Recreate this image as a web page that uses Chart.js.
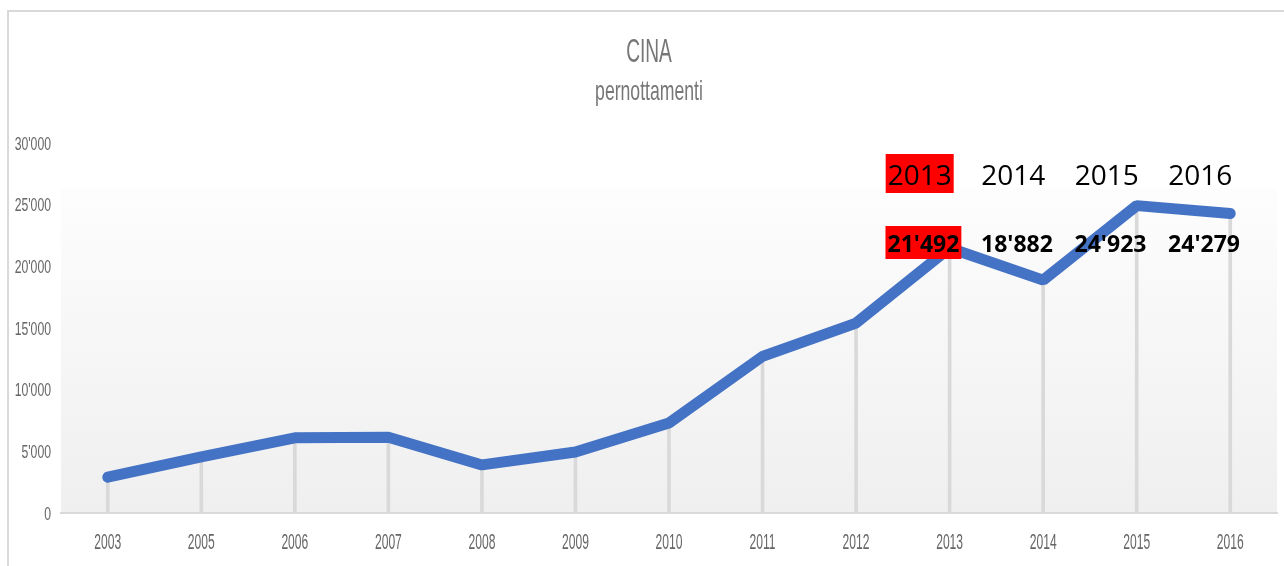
<!DOCTYPE html>
<html>
<head>
<meta charset="utf-8">
<script src="https://cdn.jsdelivr.net/npm/chart.js@4/dist/chart.umd.min.js"></script>
<style>
  html, body { margin: 0; padding: 0; background: #ffffff; }
  #wrap { width: 1284px; height: 566px; position: relative; }
</style>
</head>
<body>
<div id="wrap"><canvas id="c" width="1284" height="566"></canvas></div>
<script>
// ---- data ----
const titleText = "CINA";
const subtitleText = "pernottamenti";
const years = ["2003", "2005", "2006", "2007", "2008", "2009", "2010", "2011", "2012", "2013", "2014", "2015", "2016"];
const nights = [2900, 4550, 6100, 6150, 3900, 4950, 7300, 12700, 15400, 21492, 18882, 24923, 24279];
const yTicks = [0, 5000, 10000, 15000, 20000, 25000, 30000];
const noteYears = ["2013", "2014", "2015", "2016"];
const noteValues = ["21'492", "18'882", "24'923", "24'279"];
const noteHighlight = [true, false, false, false];

function fmt(v) {
  return String(v).replace(/\B(?=(\d{3})+(?!\d))/g, "'");
}

function condText(ctx, text, x, y, align, font, sx, color) {
  ctx.save();
  ctx.font = font;
  ctx.fillStyle = color;
  ctx.textBaseline = 'alphabetic';
  const w = ctx.measureText(text).width * sx;
  let left = x;
  if (align === 'center') left = x - w / 2;
  else if (align === 'right') left = x - w;
  ctx.translate(left, y);
  ctx.scale(sx, 1);
  ctx.textAlign = 'left';
  ctx.fillText(text, 0, 0);
  ctx.restore();
}

const decor = {
  id: 'decor',
  beforeDraw(chart) {
    const ctx = chart.ctx, a = chart.chartArea;
    ctx.save();
    // outer frame
    ctx.strokeStyle = '#d9d9d9';
    ctx.lineWidth = 2;
    ctx.beginPath();
    ctx.moveTo(8, 566); ctx.lineTo(8, 11); ctx.lineTo(1284, 11);
    ctx.stroke();
    // plot background gradient
    const top = a.top + 45;
    const g = ctx.createLinearGradient(0, top, 0, a.bottom);
    g.addColorStop(0, '#fdfdfd');
    g.addColorStop(1, '#efefef');
    ctx.fillStyle = g;
    ctx.fillRect(a.left, top, a.right - a.left, a.bottom - top);
    ctx.restore();
  },
  afterDraw(chart) {
    const ctx = chart.ctx, a = chart.chartArea;
    const xs = chart.scales.x, ys = chart.scales.y;
    const tickColor = '#666666';
    // titles
    const cx = (a.left + a.right) / 2 + 0;
    condText(ctx, titleText, 649, 62, 'center', '33px "Liberation Sans"', 0.58, '#777777');
    condText(ctx, subtitleText, 649, 100, 'center', '28px "Liberation Sans"', 0.63, '#777777');
    // y tick labels
    ys.ticks.forEach((t, i) => {
      const y = ys.getPixelForTick(i);
      condText(ctx, fmt(t.value), a.left - 10, y + 6.5, 'right', '18px "Liberation Sans"', 0.68, tickColor);
    });
    // x tick labels
    xs.ticks.forEach((t, i) => {
      const x = xs.getPixelForTick(i);
      condText(ctx, years[t.value], x, a.bottom + 36, 'center', '22px "Liberation Sans"', 0.55, tickColor);
    });
    // annotations
    const step = xs.getPixelForValue(1) - xs.getPixelForValue(0);
    const base = years.length - noteYears.length;
    ctx.save();
    noteYears.forEach((yr, k) => {
      const px = xs.getPixelForValue(base + k);
      const x1 = px - step * 0.32;
      const x2 = px - step * 0.28;
      ctx.font = '28px "Open Sans"';
      const w1 = ctx.measureText(yr).width;
      ctx.font = 'bold 23px "Open Sans"';
      const w2 = ctx.measureText(noteValues[k]).width;
      const b1 = a.top + 42, b2 = a.top + 109;
      if (noteHighlight[k]) {
        ctx.fillStyle = '#ff0000';
        ctx.fillRect(x1 - w1 / 2 - 2, b1 - 31, w1 + 4, 39);
        ctx.fillRect(x2 - w2 / 2 - 2, b2 - 26, w2 + 4, 33);
      }
      ctx.fillStyle = '#000000';
      ctx.textAlign = 'center';
      ctx.textBaseline = 'alphabetic';
      ctx.font = '28px "Open Sans"';
      ctx.fillText(yr, x1, b1);
      ctx.font = 'bold 23px "Open Sans"';
      ctx.fillText(noteValues[k], x2, b2);
    });
    ctx.restore();
  }
};

new Chart(document.getElementById('c'), {
  type: 'line',
  data: {
    labels: years,
    datasets: [
      {
        type: 'line',
        label: 'pernottamenti',
        data: nights,
        borderColor: '#4472c4',
        backgroundColor: '#4472c4',
        borderWidth: 11,
        borderCapStyle: 'round',
        borderJoinStyle: 'bevel',
        pointRadius: 0,
        pointHoverRadius: 0,
        tension: 0,
        fill: false,
        order: 1
      },
      {
        type: 'bar',
        label: 'drop',
        data: nights,
        backgroundColor: '#d9d9d9',
        barThickness: 3,
        order: 2
      }
    ]
  },
  options: {
    responsive: false,
    animation: false,
    events: [],
    layout: { padding: { top: 143, right: 7, bottom: 0, left: 0 } },
    plugins: {
      legend: { display: false },
      title: { display: false },
      tooltip: { enabled: false }
    },
    scales: {
      x: {
        type: 'category',
        offset: true,
        grid: { display: false, drawTicks: false },
        border: { display: true, color: '#d9d9d9', width: 2 },
        ticks: { display: false },
        afterFit(s) { s.height = 53; }
      },
      y: {
        min: 0,
        max: 30000,
        afterBuildTicks(s) { s.ticks = yTicks.map(v => ({ value: v })); },
        grid: { display: false, drawTicks: false },
        border: { display: false },
        ticks: { display: false },
        afterFit(s) { s.width = 61; }
      }
    }
  },
  plugins: [decor]
});
</script>
</body>
</html>
